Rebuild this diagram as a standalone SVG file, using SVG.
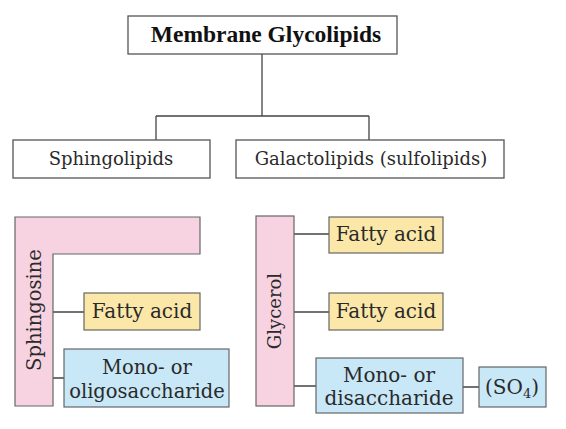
<svg xmlns="http://www.w3.org/2000/svg" width="566" height="429" viewBox="0 0 566 429">
<style>
.box{fill:#fff;stroke:#555;stroke-width:1.3}
.pink{fill:#f7d3e2;stroke:#666;stroke-width:1.2}
.yel{fill:#fbe7a8;stroke:#666;stroke-width:1.2}
.blue{fill:#c8e7f7;stroke:#666;stroke-width:1.2}
.ln{stroke:#444;stroke-width:1.3;fill:none}
text{font-family:"DejaVu Serif","Liberation Serif",serif;fill:#2a2a2a;text-anchor:middle}
.t{font-size:18px}
.f{font-size:20px}
.m{font-size:19.5px}
.h{font-family:"Liberation Serif",serif;font-weight:bold;font-size:23.5px;fill:#111}
</style>
<rect width="566" height="429" fill="#fff"/>
<g id="connectors">
<path class="ln" d="M262 54V116M156 116H369M156 116V140M369 116V140"/>
<path class="ln" d="M53 312H84M53 378H64"/>
<path class="ln" d="M294 234H329M294 312H329M294 386H316M463 387H479"/>
</g>
<g id="title"><rect class="box" x="128" y="16" width="269" height="38"/><text class="h" x="266" y="42">Membrane Glycolipids</text></g>
<g id="sphingolipids"><rect class="box" x="13" y="140" width="197" height="38"/><text class="t" x="111" y="165">Sphingolipids</text></g>
<g id="galactolipids"><rect class="box" x="236" y="140" width="268" height="38"/><text class="t" x="371" y="165">Galactolipids (sulfolipids)</text></g>
<g id="sphingosine"><path class="pink" d="M15 217H200V254H53V406H15Z"/><text class="m" transform="translate(41 310) rotate(-90)">Sphingosine</text></g>
<g id="fatty-acid-s"><rect class="yel" x="84" y="293" width="116" height="37"/><text class="f" x="142" y="318">Fatty acid</text></g>
<g id="oligosaccharide"><rect class="blue" x="64" y="349" width="165" height="58"/><text class="m" x="147" y="374">Mono- or</text><text class="m" x="147" y="398">oligosaccharide</text></g>
<g id="glycerol"><rect class="pink" x="256" y="216" width="38" height="190"/><text class="t" transform="translate(281 311) rotate(-90)">Glycerol</text></g>
<g id="fatty-acid-g1"><rect class="yel" x="329" y="217" width="114" height="36"/><text class="f" x="386" y="241">Fatty acid</text></g>
<g id="fatty-acid-g2"><rect class="yel" x="329" y="293" width="114" height="37"/><text class="f" x="386" y="318">Fatty acid</text></g>
<g id="disaccharide"><rect class="blue" x="316" y="358" width="147" height="55"/><text class="f" x="389" y="382">Mono- or</text><text class="f" x="389" y="405">disaccharide</text></g>
<g id="so4"><rect class="blue" x="479" y="367" width="67" height="40"/><text class="f" x="512" y="394">(SO<tspan font-size="13" dy="4">4</tspan><tspan dy="-4">)</tspan></text></g>
</svg>
